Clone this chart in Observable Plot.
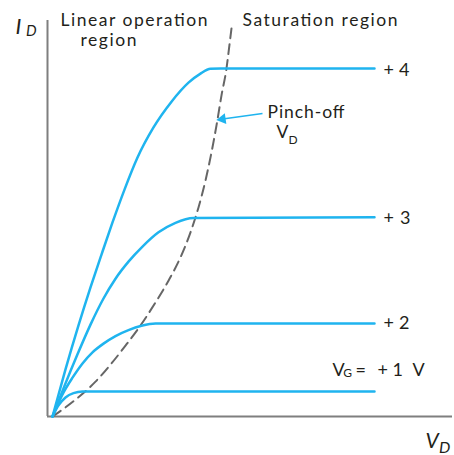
<!DOCTYPE html>
<html><head><meta charset="utf-8">
<script src="https://cdn.jsdelivr.net/npm/d3@7"></script>
<script src="https://cdn.jsdelivr.net/npm/@observablehq/plot@0.6"></script>
<style>body{margin:0;background:#fff}</style>
</head><body><div id="chart"></div>
<script>
// Gate voltage labels
const gateLabels = ["+ 1", "+ 2", "+ 3", "+ 4"];
// Drain characteristic curves (V_D, I_D), arbitrary units
const vg1VD = [0, 0.15, 0.325, 0.525, 0.75, 1.0, 8.05];
const vg1ID = [0, 0.28, 0.48, 0.59, 0.63, 0.63, 0.63];
const vg2VD = [0, 0.25, 0.5, 0.75, 1.0, 1.275, 1.575, 1.9, 2.225, 2.575, 8.05];
const vg2ID = [0, 0.56, 0.98, 1.34, 1.62, 1.84, 2.03, 2.18, 2.29, 2.35, 2.35];
const vg3VD = [0, 0.275, 0.625, 0.95, 1.275, 1.575, 1.9, 2.25, 2.65, 3.075, 3.525, 8.05];
const vg3ID = [0, 0.71, 1.57, 2.32, 2.98, 3.48, 3.91, 4.29, 4.65, 4.89, 5.01, 5.03];
const vg4VD = [0, 0.325, 0.65, 0.95, 1.225, 1.5, 1.8, 2.125, 2.525, 2.975, 3.4, 3.7, 3.95, 4.2, 8.05];
const vg4ID = [0, 1.19, 2.30, 3.26, 4.09, 4.90, 5.73, 6.54, 7.30, 7.95, 8.43, 8.66, 8.78, 8.79, 8.79];
// Pinch-off locus
const pinchVD = [0, 0.325, 0.7, 1.075, 1.45, 1.825, 2.2, 2.575, 2.9, 3.2, 3.45, 3.65, 3.825, 3.975, 4.1, 4.225, 4.35, 4.4125, 4.475];
const pinchID = [0, 0.23, 0.53, 0.88, 1.31, 1.79, 2.30, 2.88, 3.43, 4.02, 4.65, 5.28, 5.96, 6.67, 7.35, 8.11, 8.79, 9.29, 9.80];

const series = [[vg1VD, vg1ID], [vg2VD, vg2ID], [vg3VD, vg3ID], [vg4VD, vg4ID]];
const curves = series.flatMap(([xs, ys], i) => xs.map((x, j) => ({g: i, x, y: ys[j]})));
const pinch = pinchVD.map((x, j) => ({x, y: pinchID[j]}));

const blue = "#1fb4ef";
const ink = "#231f1a";
const T = (text, x, y, size, extra = {}) =>
  Plot.text([text], {x: () => x, y: () => y, text: d => d, textAnchor: "start", lineAnchor: "bottom", fontSize: size, fill: ink, ...extra});

const chart = Plot.plot({
  width: 454, height: 455,
  marginLeft: 47, marginRight: 2, marginTop: 20, marginBottom: 39,
  x: {domain: [-0.125, 10], axis: null},
  y: {domain: [0, 10], axis: null},
  style: {fontFamily: "Lato, 'Open Sans', sans-serif", background: "#fff"},
  marks: [
    Plot.ruleX([-0.125], {y1: 0, y2: 10, stroke: "#7f7f7f", strokeWidth: 2}),
    Plot.ruleY([0], {x1: -0.125, x2: 10, stroke: "#7f7f7f", strokeWidth: 2}),
    Plot.line(pinch, {x: "x", y: "y", curve: "monotone-x", stroke: "#666", strokeWidth: 2, strokeDasharray: "10,6"}),
    Plot.line(curves, {x: "x", y: "y", z: "g", curve: "monotone-x", stroke: blue, strokeWidth: 2.5}),
    Plot.link([0], {x1: () => 5.25, y1: () => 7.65, x2: () => 4.3, y2: () => 7.52, stroke: blue, strokeWidth: 1.5}),
    Plot.dot([0], {x: () => 4.25, y: () => 7.51, symbol: "triangle", r: 4, fill: blue, stroke: "none", rotate: -98}),
    T("Linear operation", 0.2, 9.87, 17.5),
    T("region", 0.7, 9.35, 17.5),
    T("Saturation region", 4.75, 9.87, 17.5),
    T(gateLabels[3], 8.275, 8.61, 18),
    T(gateLabels[2], 8.275, 4.85, 18),
    T(gateLabels[1], 8.275, 2.20, 18),
    T("Pinch-off", 5.375, 7.55, 17.5),
    T("V", 5.6, 7.03, 17.5),
    T("D", 5.9, 6.88, 12),
    T("V", 7.0, 1.035, 18),
    T("G", 7.27, 1.0, 12),
    T("=", 7.575, 1.035, 18),
    T(gateLabels[0], 8.125, 1.035, 18),
    T("V", 9.0, 1.035, 18),
    T("I", -0.925, 9.67, 22, {fontStyle: "italic"}),
    T("D", -0.66, 9.6, 15, {fontStyle: "italic"}),
    T("V", 9.325, -0.8, 21, {fontStyle: "italic"}),
    T("D", 9.66, -0.91, 16, {fontStyle: "italic"})
  ]
});
const widths = new Map([["Linear operation", 147], ["region", 56], ["Saturation region", 155], ["+ 4", 26], ["+ 3", 27], ["+ 2", 26], ["Pinch-off", 77]]);
d3.select(chart).selectAll("text").each(function () {
  const w = widths.get(this.textContent);
  if (w) { this.setAttribute("textLength", w); this.setAttribute("lengthAdjust", "spacing"); }
});
document.getElementById("chart").append(chart);
</script></body></html>
